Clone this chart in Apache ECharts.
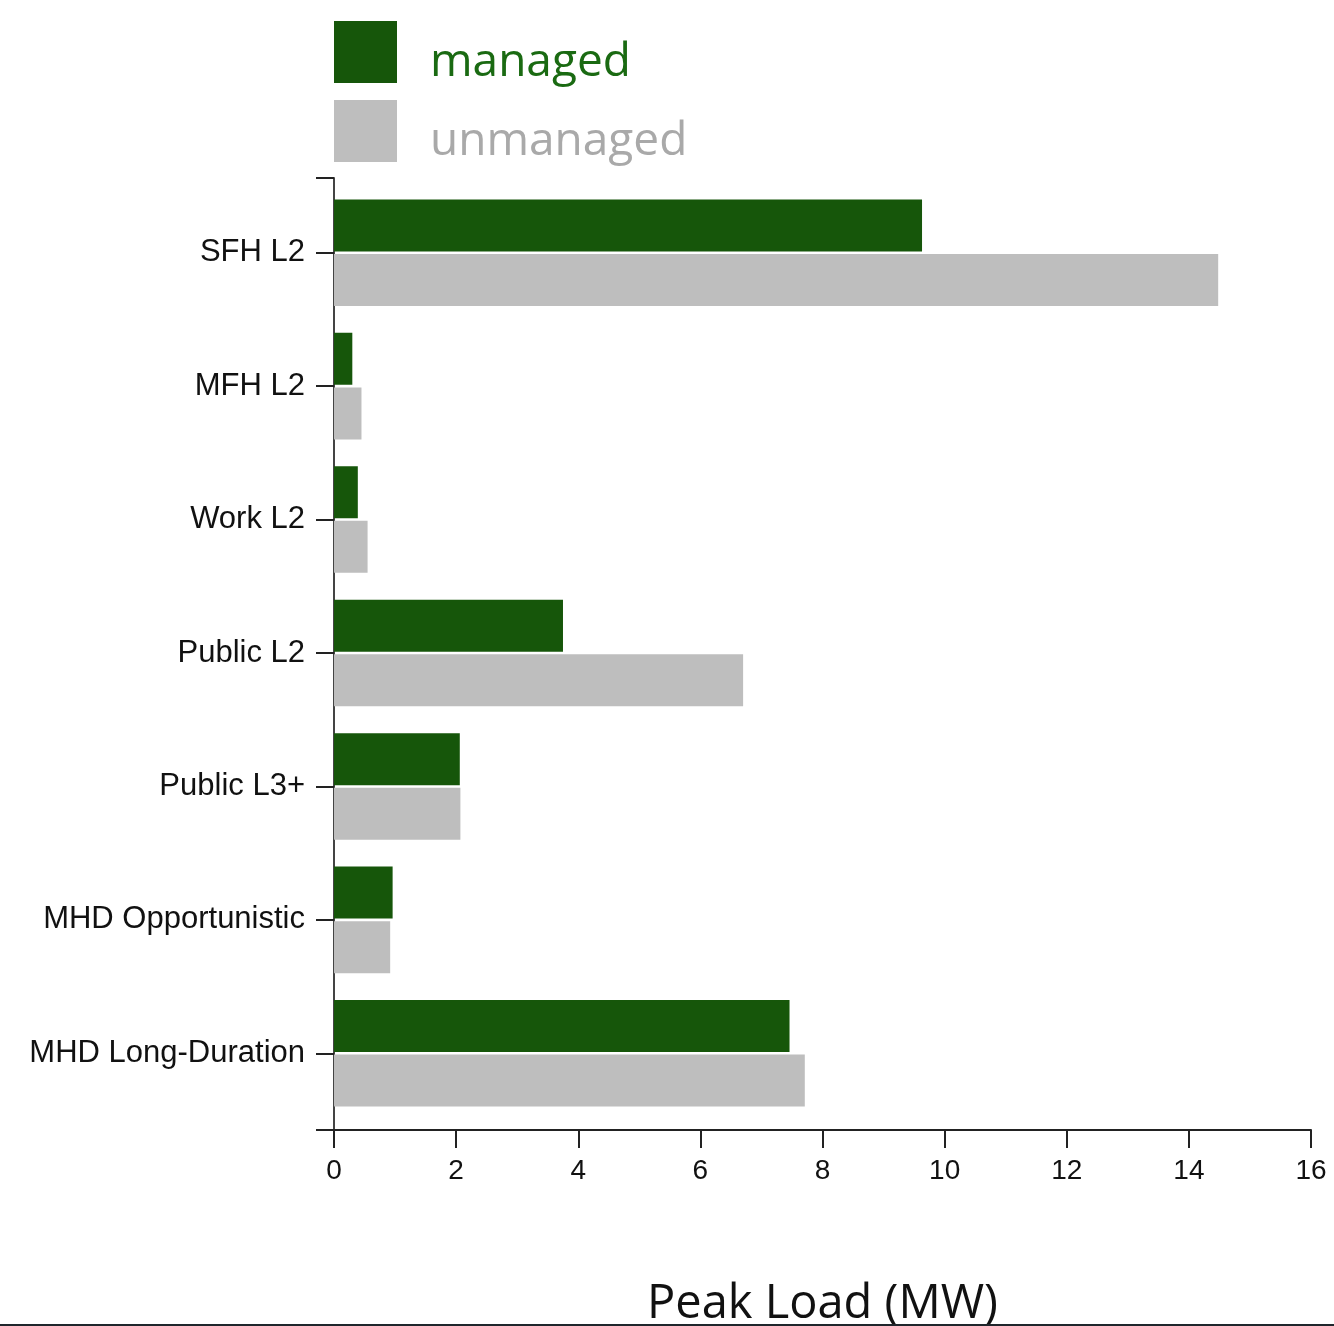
<!DOCTYPE html>
<html>
<head>
<meta charset="utf-8">
<script src="https://cdn.jsdelivr.net/npm/echarts@6/dist/echarts.min.js"></script>
<style>
html,body{margin:0;padding:0;background:#fff;}
#c{width:1334px;height:1324px;border-bottom:2px solid #1f262c;}
</style>
</head>
<body>
<div id="c"></div>
<script>
const categories = ['SFH L2','MFH L2','Work L2','Public L2','Public L3+','MHD Opportunistic','MHD Long-Duration'];
const managed = [9.63, 0.30, 0.39, 3.75, 2.06, 0.96, 7.46];
const unmanaged = [14.48, 0.45, 0.55, 6.70, 2.07, 0.92, 7.71];
const xTicks = [0, 2, 4, 6, 8, 10, 12, 14, 16];

const GREEN = '#16560a';
const GRAY = '#bebebe';
const AXIS = '#222';

const chart = echarts.init(document.getElementById('c'), null, {renderer:'canvas'});
chart.setOption({
  animation:false,
  backgroundColor:'#fff',
  legend:{
    orient:'vertical', left:334, top:21, padding:0,
    itemWidth:63, itemHeight:62, itemGap:14,
    icon:'rect',
    data:['managed','unmanaged'],
    formatter: function (name) { return name === 'managed' ? '{m|' + name + '}' : '{u|' + name + '}'; },
    textStyle:{
      fontFamily:'Open Sans', fontSize:46,
      rich:{
        m:{fontFamily:'Open Sans', fontSize:46, color:'#1a6a12', padding:[22,0,0,28]},
        u:{fontFamily:'Open Sans', fontSize:46, color:'#a9a9a9', padding:[22,0,0,28]}
      }
    }
  },
  grid:[
    {left:334, width:977, top:186, height:934, outerBoundsMode:'none', containLabel:false},
    {left:334, width:977, top:178, height:952, outerBoundsMode:'none', containLabel:false}
  ],
  xAxis:[
    {
      type:'value', gridIndex:0, min:xTicks[0], max:xTicks[xTicks.length-1], interval:2,
      offset:10,
      axisLine:{show:true, lineStyle:{color:AXIS, width:2}},
      axisTick:{show:true, length:18, lineStyle:{color:AXIS, width:2}},
      splitLine:{show:false},
      axisLabel:{fontFamily:'Liberation Sans', fontSize:28, color:'#111', margin:27},
      name:'Peak Load (MW)', nameLocation:'middle', nameGap:151,
      nameTextStyle:{fontFamily:'Open Sans', fontSize:47, color:'#111'}
    },
    {type:'value', gridIndex:1, show:false}
  ],
  yAxis:[
    {
      type:'category', gridIndex:0, data:categories, inverse:true,
      axisLine:{show:false},
      axisTick:{show:true, alignWithLabel:true, length:18, lineStyle:{color:AXIS, width:2}},
      axisLabel:{fontFamily:'Liberation Sans', fontSize:31, color:'#111', margin:29}
    },
    {
      type:'value', gridIndex:1, min:0, max:1, interval:1,
      axisLine:{show:true, lineStyle:{color:'#444', width:2}},
      axisTick:{show:true, length:18, lineStyle:{color:AXIS, width:2}},
      axisLabel:{show:false},
      splitLine:{show:false}
    }
  ],
  series:[
    {name:'managed', type:'bar', xAxisIndex:0, yAxisIndex:0, data:managed,
     barWidth:52, barGap:'5%', itemStyle:{color:GREEN}},
    {name:'unmanaged', type:'bar', xAxisIndex:0, yAxisIndex:0, data:unmanaged,
     barWidth:52, barGap:'5%', itemStyle:{color:GRAY}}
  ]
});
</script>
</body>
</html>
